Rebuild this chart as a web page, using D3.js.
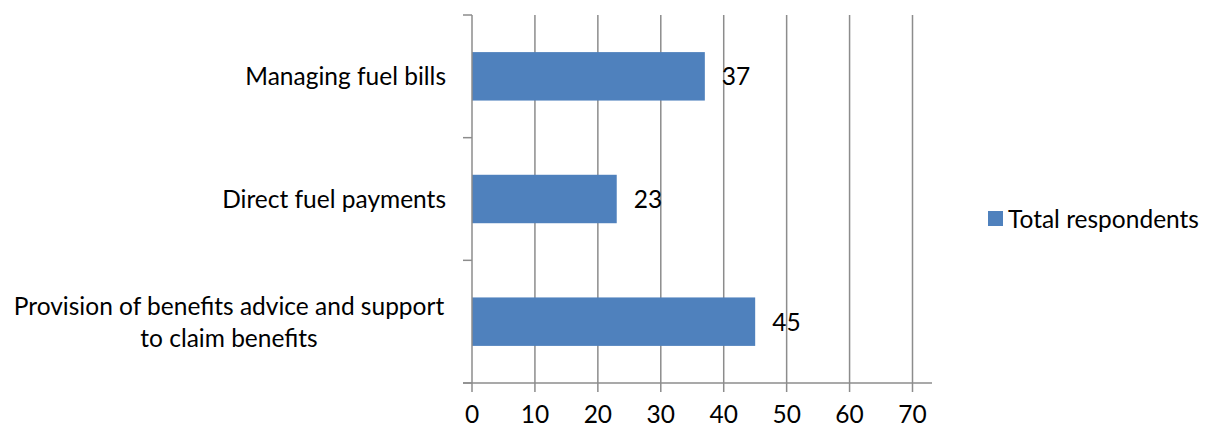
<!DOCTYPE html>
<html>
<head>
<meta charset="utf-8">
<script src="https://cdn.jsdelivr.net/npm/d3@7"></script>
<style>
  body { margin: 0; background: #fff; }
  text { font-family: Lato, "Open Sans", sans-serif; fill: #000; }
</style>
</head>
<body>
<div id="wrapper"></div>
<script>
// data
const categories = [
  "Managing fuel bills",
  "Direct fuel payments",
  "Provision of benefits advice and support to claim benefits",
];
const categoryLines = [
  ["Managing fuel bills"],
  ["Direct fuel payments"],
  ["Provision of benefits advice and support", "to claim benefits"],
];
const values = [37, 23, 45];
const xTicks = [0, 10, 20, 30, 40, 50, 60, 70];
const seriesName = "Total respondents";

const width = 1208;
const height = 427;
const plot = { left: 472, right: 912.5, top: 15, bottom: 383 };
const barColor = "#4F81BD";
const gridColor = "#8C8C8C";
const fontSize = "24.5px";

const svg = d3
  .select("#wrapper")
  .append("svg")
  .attr("width", width)
  .attr("height", height);

const x = d3.scaleLinear().domain([0, 70]).range([plot.left, plot.right]);
const y = d3
  .scaleBand()
  .domain(categories)
  .range([plot.top, plot.bottom])
  .padding(0);

const barH = y.bandwidth() * 0.395;

// gridlines
svg
  .selectAll(".grid")
  .data(xTicks.slice(1))
  .join("line")
  .attr("x1", (d) => x(d))
  .attr("x2", (d) => x(d))
  .attr("y1", plot.top)
  .attr("y2", plot.bottom + 9)
  .attr("stroke", gridColor)
  .attr("stroke-width", 1.5);

// bars
svg
  .selectAll(".bar")
  .data(values)
  .join("rect")
  .attr("x", x(0))
  .attr("y", (d, i) => y(categories[i]) + y.bandwidth() / 2 - barH / 2)
  .attr("width", (d) => x(d) - x(0))
  .attr("height", barH)
  .attr("fill", barColor);

// axis lines
svg
  .append("line")
  .attr("x1", plot.left - 9)
  .attr("x2", 932)
  .attr("y1", plot.bottom)
  .attr("y2", plot.bottom)
  .attr("stroke", gridColor)
  .attr("stroke-width", 1.5);

svg
  .append("line")
  .attr("x1", x(0))
  .attr("x2", x(0))
  .attr("y1", plot.top)
  .attr("y2", plot.bottom + 9)
  .attr("stroke", gridColor)
  .attr("stroke-width", 1.5);

// category tick marks
const catTicks = categories.map((c) => y(c)).concat([plot.bottom]);
svg
  .selectAll(".ctick")
  .data(catTicks)
  .join("line")
  .attr("x1", plot.left - 9)
  .attr("x2", plot.left)
  .attr("y1", (d) => d)
  .attr("y2", (d) => d)
  .attr("stroke", gridColor)
  .attr("stroke-width", 1.5);

// x tick labels
svg
  .selectAll(".xlabel")
  .data(xTicks)
  .join("text")
  .attr("x", (d) => x(d))
  .attr("y", 423)
  .attr("text-anchor", "middle")
  .style("font-size", fontSize)
  .text((d) => d);

// category labels
const catLabels = svg
  .selectAll(".clabel")
  .data(categoryLines)
  .join("text")
  .style("font-size", fontSize);

catLabels.each(function (lines, i) {
  const cy = y(categories[i]) + y.bandwidth() / 2;
  const lh = 32;
  const sel = d3.select(this);
  const multi = lines.length > 1;
  sel.attr("text-anchor", multi ? "middle" : "end");
  lines.forEach((l, j) => {
    sel
      .append("tspan")
      .attr("x", multi ? 229 : 446)
      .attr("y", cy + 9 + (j - (lines.length - 1) / 2) * lh)
      .text(l);
  });
});

// value labels
svg
  .selectAll(".vlabel")
  .data(values)
  .join("text")
  .attr("x", (d) => x(d) + 17)
  .attr("y", (d, i) => y(categories[i]) + y.bandwidth() / 2 + 9)
  .style("font-size", fontSize)
  .text((d) => d);

// legend
const legend = svg.append("g").attr("transform", "translate(988,211)");
legend
  .append("rect")
  .attr("width", 15)
  .attr("height", 15)
  .attr("fill", barColor);
legend
  .append("text")
  .attr("x", 20)
  .attr("y", 16.5)
  .style("font-size", fontSize)
  .text(seriesName);
</script>
</body>
</html>
